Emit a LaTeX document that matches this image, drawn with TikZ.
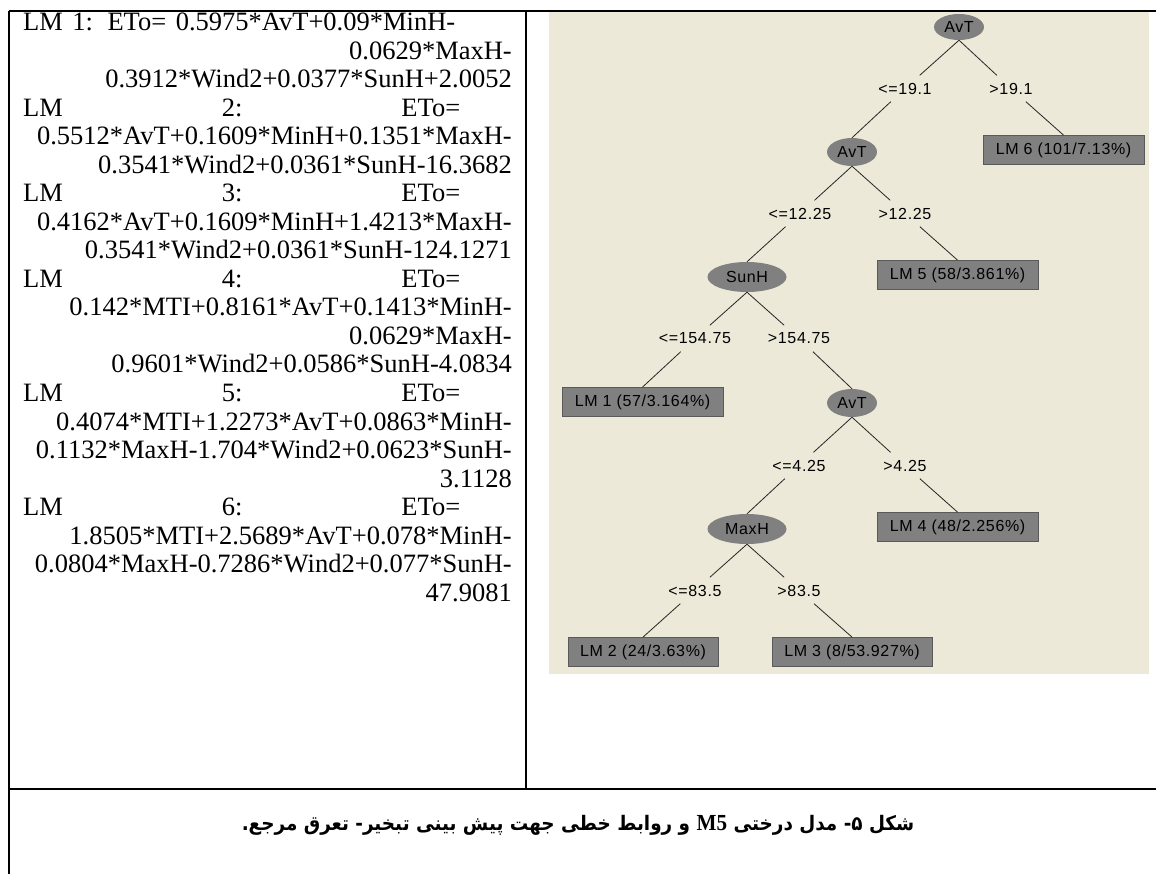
\documentclass[tikz,border=0pt]{standalone}
\usepackage{fontspec}
\usetikzlibrary{shapes.geometric}
\setmainfont{Liberation Serif}
\newfontfamily\treefont[LetterSpace=4]{Liberation Sans}
\newfontfamily\arabicfont[Script=Arabic]{DejaVu Sans}
\TeXXeTstate=1
\definecolor{wekabg}{RGB}{236,233,216}
\definecolor{wekagray}{RGB}{128,128,128}
\definecolor{wekaedge}{RGB}{90,90,90}
\begin{document}
\begin{tikzpicture}[x=1pt,y=-1pt,
  eq/.style={inner sep=0pt, font=\fontsize{26.5}{29}\selectfont},
  eqr/.style={eq, anchor=base east},
  eql/.style={eq, anchor=base west},
  tf/.style={font=\treefont\fontsize{16}{18}\selectfont},
  split/.style={tf, ellipse, fill=wekagray, inner sep=0pt, minimum height=28pt},
  leaf/.style={tf, rectangle, fill=wekagray, draw=wekaedge, line width=0.8pt, minimum height=29pt, inner sep=0pt},
  cond/.style={tf, inner sep=0pt, minimum height=26pt, minimum width=50pt},
  edge/.style={line width=0.8pt, black!85},
  rule/.style={line width=2pt, black}]
\useasboundingbox (0,0) rectangle (1156,874);
% tree background
\fill[wekabg] (549,11) rectangle (1149,674);
% table rules
\coordinate (tl) at (8.5,11);
\coordinate (tr) at (1156,11);
\coordinate (bl) at (8.5,874);
\coordinate (dt) at (526,11);
\coordinate (db) at (526,789);
\coordinate (hl) at (8.5,789);
\coordinate (hr) at (1156,789);
\draw[rule] (tl) -- (tr);
\draw[rule] (tl) -- (bl);
\draw[rule] (dt) -- (db);
\draw[rule] (hl) -- (hr);
% left column equations
\def\lx{23}\def\rx{512}\def\bz{31}\def\pitch{28.5}
\node[eql] (t1) at (\lx,{\bz+0*\pitch}) {\makebox[432pt][s]{LM 1: ETo= 0.5975*AvT+0.09*MinH-}};
\node[eqr] (t2) at (\rx,{\bz+1*\pitch}) {0.0629*MaxH-};
\node[eqr] (t3) at (\rx,{\bz+2*\pitch}) {0.3912*Wind2+0.0377*SunH+2.0052};
\node[eql] (t4) at (\lx,{\bz+3*\pitch}) {\makebox[437pt][l]{LM\hfill 2:\hfill ETo=}};
\node[eqr] (t5) at (\rx,{\bz+4*\pitch}) {0.5512*AvT+0.1609*MinH+0.1351*MaxH-};
\node[eqr] (t6) at (\rx,{\bz+5*\pitch}) {0.3541*Wind2+0.0361*SunH-16.3682};
\node[eql] (t7) at (\lx,{\bz+6*\pitch}) {\makebox[437pt][l]{LM\hfill 3:\hfill ETo=}};
\node[eqr] (t8) at (\rx,{\bz+7*\pitch}) {0.4162*AvT+0.1609*MinH+1.4213*MaxH-};
\node[eqr] (t9) at (\rx,{\bz+8*\pitch}) {0.3541*Wind2+0.0361*SunH-124.1271};
\node[eql] (t10) at (\lx,{\bz+9*\pitch}) {\makebox[437pt][l]{LM\hfill 4:\hfill ETo=}};
\node[eqr] (t11) at (\rx,{\bz+10*\pitch}) {0.142*MTI+0.8161*AvT+0.1413*MinH-};
\node[eqr] (t12) at (\rx,{\bz+11*\pitch}) {0.0629*MaxH-};
\node[eqr] (t13) at (\rx,{\bz+12*\pitch}) {0.9601*Wind2+0.0586*SunH-4.0834};
\node[eql] (t14) at (\lx,{\bz+13*\pitch}) {\makebox[437pt][l]{LM\hfill 5:\hfill ETo=}};
\node[eqr] (t15) at (\rx,{\bz+14*\pitch}) {0.4074*MTI+1.2273*AvT+0.0863*MinH-};
\node[eqr] (t16) at (\rx,{\bz+15*\pitch}) {0.1132*MaxH-1.704*Wind2+0.0623*SunH-};
\node[eqr] (t17) at (\rx,{\bz+16*\pitch}) {3.1128};
\node[eql] (t18) at (\lx,{\bz+17*\pitch}) {\makebox[437pt][l]{LM\hfill 6:\hfill ETo=}};
\node[eqr] (t19) at (\rx,{\bz+18*\pitch}) {1.8505*MTI+2.5689*AvT+0.078*MinH-};
\node[eqr] (t20) at (\rx,{\bz+19*\pitch}) {0.0804*MaxH-0.7286*Wind2+0.077*SunH-};
\node[eqr] (t21) at (\rx,{\bz+20*\pitch}) {47.9081};
% tree nodes
\node[split, minimum width=50pt, minimum height=26pt] (root) at (959,27) {AvT};
\node[cond] (c1l) at (905,88.5) {<=19.1};
\node[cond] (c1r) at (1011,88.5) {>19.1};
\node[split, minimum width=50pt] (avt2) at (852,152) {AvT};
\node[leaf, minimum width=161pt] (lm6) at (1063.5,150) {LM 6 (101/7.13\%)};
\node[cond] (c2l) at (800,213.5) {<=12.25};
\node[cond] (c2r) at (905,213.5) {>12.25};
\node[split, minimum width=79pt, minimum height=30pt] (sunh) at (747,277) {SunH};
\node[leaf, minimum width=161pt] (lm5) at (957.5,275) {LM 5 (58/3.861\%)};
\node[cond] (c3l) at (695,338.5) {<=154.75};
\node[cond] (c3r) at (799,338.5) {>154.75};
\node[leaf, minimum width=161pt] (lm1) at (642.5,402) {LM 1 (57/3.164\%)};
\node[split, minimum width=50pt] (avt3) at (852,403) {AvT};
\node[cond] (c4l) at (799,465.5) {<=4.25};
\node[cond] (c4r) at (905,465.5) {>4.25};
\node[split, minimum width=79pt, minimum height=30pt] (maxh) at (747,529) {MaxH};
\node[leaf, minimum width=161pt] (lm4) at (957.5,527) {LM 4 (48/2.256\%)};
\node[cond] (c5l) at (695,590.5) {<=83.5};
\node[cond] (c5r) at (799,590.5) {>83.5};
\node[leaf, minimum width=150pt] (lm2) at (643,652) {LM 2 (24/3.63\%)};
\node[leaf, minimum width=160pt] (lm3) at (852,652) {LM 3 (8/53.927\%)};
% tree edges
\draw[edge] (root.south) -- (c1l); \draw[edge] (c1l) -- (avt2.north);
\draw[edge] (root.south) -- (c1r); \draw[edge] (c1r) -- (lm6.north);
\draw[edge] (avt2.south) -- (c2l); \draw[edge] (c2l) -- (sunh.north);
\draw[edge] (avt2.south) -- (c2r); \draw[edge] (c2r) -- (lm5.north);
\draw[edge] (sunh.south) -- (c3l); \draw[edge] (c3l) -- (lm1.north);
\draw[edge] (sunh.south) -- (c3r); \draw[edge] (c3r) -- (avt3.north);
\draw[edge] (avt3.south) -- (c4l); \draw[edge] (c4l) -- (maxh.north);
\draw[edge] (avt3.south) -- (c4r); \draw[edge] (c4r) -- (lm4.north);
\draw[edge] (maxh.south) -- (c5l); \draw[edge] (c5l) -- (lm2.north);
\draw[edge] (maxh.south) -- (c5r); \draw[edge] (c5r) -- (lm3.north);
% caption
\node[font=\arabicfont\bfseries\fontsize{20}{24}\selectfont, inner sep=0pt] (cap) at (578,825)
  {\scalebox{0.92}[1]{\beginR شکل ۵- مدل درختی \beginL{\rmfamily\bfseries\fontsize{23}{24}\selectfont M5}\endL{} و روابط خطی جهت پیش بینی تبخیر- تعرق مرجع.\endR}};
\end{tikzpicture}
\end{document}
